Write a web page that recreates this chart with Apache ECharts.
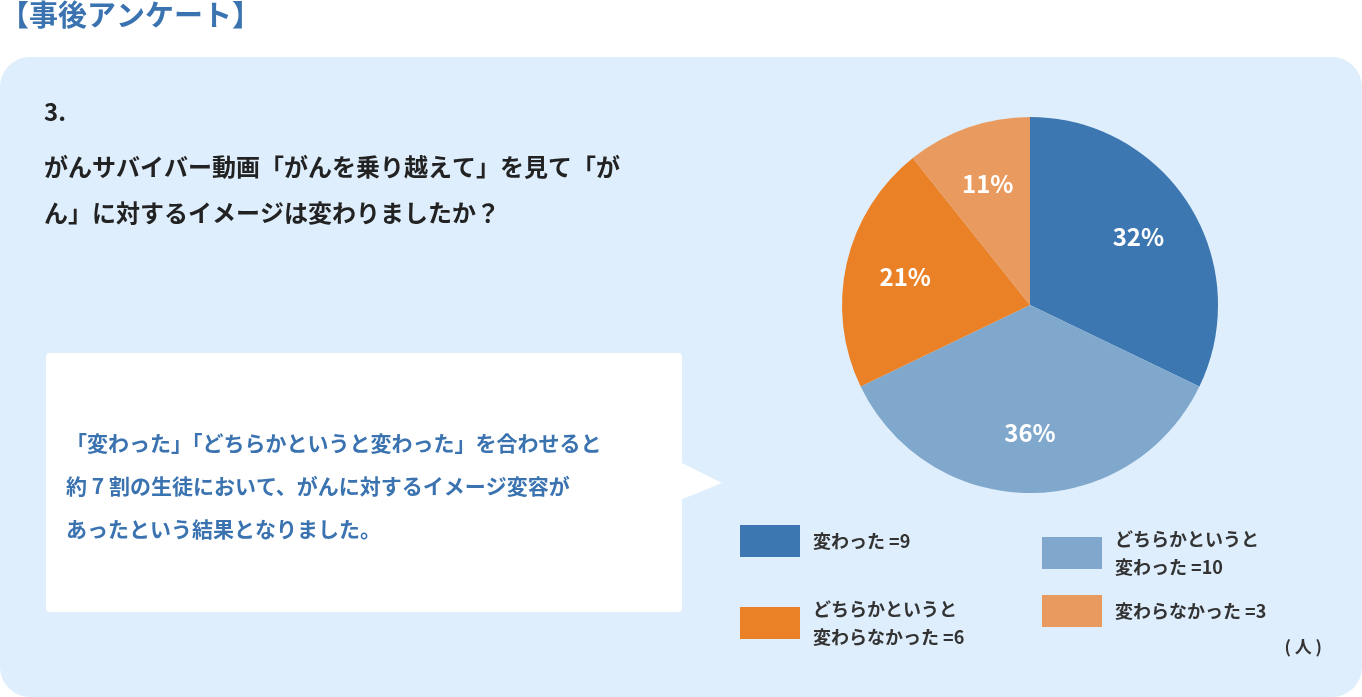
<!DOCTYPE html>
<html><head><meta charset="utf-8">
<script src="https://cdn.jsdelivr.net/npm/echarts@6/dist/echarts.min.js"></script>
<style>html,body{margin:0;padding:0;background:#fff}#c{width:1362px;height:697px}</style>
</head><body><div id="c"></div>
<script>
var categories = ['変わった =9', 'どちらかというと\n変わった =10', 'どちらかというと\n変わらなかった =6', '変わらなかった =3'];
var values = [9, 10, 6, 3];
var colors = ['#3d77b1', '#80a8cc', '#eb8126', '#e99b5f'];
var font = '"Noto Sans CJK JP", sans-serif';

var chart = echarts.init(document.getElementById('c'));

// 凡例 2x2
var legendPos = [[740, 525], [1042, 525], [740, 595], [1042, 595]];
var legends = categories.map(function (name, i) {
    return {
        data: [name], left: legendPos[i][0], top: legendPos[i][1], padding: 0,
        orient: 'vertical', icon: 'rect', itemWidth: 60, itemHeight: 32, itemGap: 0,
        selectedMode: false,
        textStyle: { fontFamily: font, fontSize: 18, color: '#333', fontWeight: 'bold', lineHeight: 28, padding: [0, 0, 0, 8] }
    };
});

function pct(p) { return Math.round(p.percent) + '%'; }

chart.setOption({
    color: colors,
    legend: legends,
    graphic: [
        { type: 'text', left: 0, top: 0, style: { text: '【事後アンケート】', font: 'bold 29px ' + font, fill: '#3a73b0' } },
        { type: 'rect', shape: { x: 0, y: 57, width: 1362, height: 640, r: 30 }, style: { fill: '#deeefc' }, z: -10 },
        { type: 'text', left: 44, top: 100, style: { text: '3.', font: 'bold 24px ' + font, fill: '#222' } },
        { type: 'text', left: 44, top: 144, style: { text: 'がんサバイバー動画「がんを乗り越えて」を見て「が\nん」に対するイメージは変わりましたか？', font: 'bold 24px ' + font, fill: '#222', lineHeight: 46 } },
        { type: 'rect', shape: { x: 46, y: 353, width: 636, height: 259, r: 4 }, style: { fill: '#fff' }, z: -5 },
        { type: 'polygon', shape: { points: [[680, 462], [722, 483], [680, 500]] }, style: { fill: '#fff' }, z: -5 },
        { type: 'text', left: 66, top: 422, style: { text: '「変わった」「どちらかというと変わった」を合わせると\n約 7 割の生徒において、がんに対するイメージ変容が\nあったという結果となりました。', font: 'bold 21px ' + font, fill: '#3a73b0', lineHeight: 43 } },
        { type: 'text', right: 40, top: 638, style: { text: '( 人 )', font: 'bold 17px ' + font, fill: '#333' } }
    ],
    series: [{
        type: 'pie',
        center: [1030, 305],
        radius: [0, 188],
        startAngle: 90,
        clockwise: true,
        silent: true,
        label: { show: false },
        labelLine: { show: false },
        data: categories.map(function (n, i) { return { name: n, value: values[i] }; })
    }, {
        // ラベル用（透明）
        type: 'pie',
        center: [1030, 305],
        radius: [0, 250],
        startAngle: 90,
        clockwise: true,
        silent: true,
        itemStyle: { color: 'rgba(0,0,0,0)' },
        label: { position: 'inner', formatter: pct, color: '#fff', fontFamily: font, fontSize: 24, fontWeight: 'bold' },
        labelLine: { show: false },
        data: values.map(function (v, i) { return { name: 'l' + i, value: v }; })
    }]
});
</script></body></html>
